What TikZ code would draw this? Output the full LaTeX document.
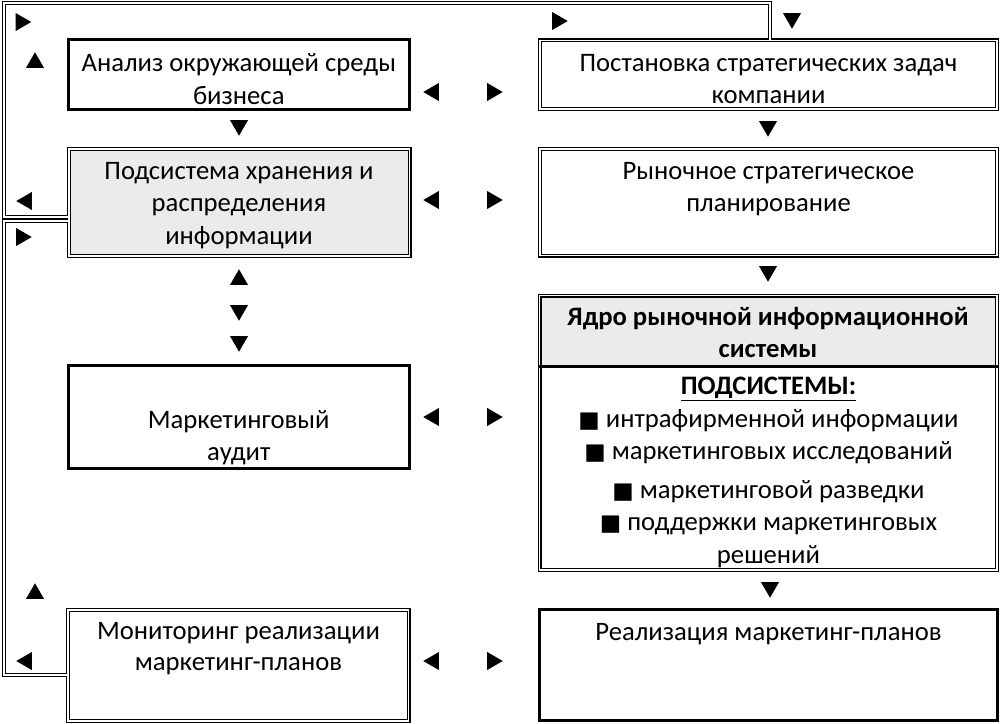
\documentclass[tikz,border=0pt]{standalone}
\usepackage{fontspec}
\setmainfont{Carlito}
\newfontfamily\symfont{DejaVu Sans}
\usetikzlibrary{shapes.geometric}
\definecolor{hdgray}{HTML}{EBEBEB}
\newcommand{\sqbul}{{\symfont\fontsize{17}{17}\selectfont ■}}
\tikzset{
  boxw/.style={minimum width={#1*0.75pt}},
  boxh/.style={minimum height={#1*0.75pt}},
  tbox/.style={draw=black, line width=2.25pt, inner sep=0},
  dbox/.style={draw=black, line width=0.85pt, double=white, double distance=1.3pt, inner sep=0},
  frame/.style={draw=black, line width=0.75pt, double=white, double distance=1.5pt},
  txt/.style={align=center, inner sep=0, font=\fontsize{20}{24.4}\selectfont},
  tri/.style={regular polygon, regular polygon sides=3, fill=black, draw=none, inner sep=0, minimum size=15.5pt},
  triup/.style={tri},
  tridn/.style={tri, shape border rotate=180},
  trirt/.style={tri, shape border rotate=-90},
  trilt/.style={tri, shape border rotate=90}
}
\begin{document}
\begin{tikzpicture}[x=0.75pt,y=-0.75pt]
\useasboundingbox (0,0) rectangle (1000,724);
\fill[white] (0,0) rectangle (1000,724);

% boxes
\node[tbox, boxw=340.5, boxh=69.5] (A) at (238.75,74.75) {};
\node[dbox, boxw=457, boxh=68.5] (B) at (768.5,74.75) {};
\node[dbox, fill=hdgray, boxw=340.5, boxh=107] (C) at (239.25,202.5) {};
\node[dbox, boxw=457, boxh=106.5] (D) at (768.5,202.25) {};
\node[tbox, boxw=340.5, boxh=102.5] (E) at (238.75,416.75) {};
\fill[hdgray] (539.5,295.5) rectangle (997,366.5);
\node[dbox, boxw=457.5, boxh=274.5] (F) at (768.25,432.75) {};
\coordinate (hd) at (0,366.5);
\draw[line width=2.25pt] (F.west |- hd) -- (F.east |- hd);
\node[dbox, boxw=340.5, boxh=111] (G) at (238.25,665.5) {};
\node[tbox, boxw=458, boxh=111] (H) at (768.5,665) {};

% texts
\node[txt] (At) at (238.75,79) {Анализ окружающей среды\\бизнеса};
\node[txt] (Bt) at (768.5,79) {Постановка стратегических задач\\компании};
\node[txt] (Ct) at (239,205.5) {Подсистема хранения и\\распределения\\информации};
\node[txt] (Dt) at (768.5,189) {Рыночное стратегическое\\планирование};
\node[txt] (Et) at (238.75,437.5) {Маркетинговый\\аудит};
\node[txt, font=\fontsize{20}{24.4}\selectfont\bfseries] (Ft) at (768,332.5) {Ядро рыночной информационной\\системы};
\node[txt] (Fb) at (768.5,472.5) {\textbf{\underline{ПОДСИСТЕМЫ:}}\\
\sqbul{} интрафирменной информации\\
\sqbul{} маркетинговых исследований\\[4.5pt]
\sqbul{} маркетинговой разведки\\
\sqbul{} поддержки маркетинговых\\
решений};
\node[txt, font=\fontsize{20}{23}\selectfont] (Gt) at (238.5,648.5) {Мониторинг реализации\\маркетинг-планов};
\node[txt] (Ht) at (768.5,634) {Реализация маркетинг-планов};

% frame connectors
\coordinate (fa) at (3.5,216.5);
\coordinate (fb) at (3.5,3.5);
\coordinate (fc) at (769.5,3.5);
\draw[frame] (C.west |- fa) -- (fa) -- (fb) -- (fc) -- (B.north -| fc);
\coordinate (ga) at (3.5,221);
\coordinate (gb) at (3.5,675);
\draw[frame] (C.west |- ga) -- (ga) -- (gb) -- (G.west |- gb);

% arrow marks
\node[trirt] (r1) at (20.9,22) {};
\node[trirt] (r2) at (557.4,21) {};
\node[tridn] (d1) at (792,18.4) {};
\node[triup] (u1) at (35,62.6) {};
\node[trilt] (l1) at (433.6,92) {};
\node[trirt] (r3) at (492.4,92) {};
\node[tridn] (d2) at (239,125.4) {};
\node[tridn] (d3) at (768,126.4) {};
\node[trilt] (l2) at (26.6,201) {};
\node[trirt] (r4) at (21.4,237) {};
\node[trilt] (l3) at (433.6,200) {};
\node[trirt] (r5) at (492.4,200) {};
\node[triup] (u2) at (239,279.6) {};
\node[tridn] (d4) at (239,310.4) {};
\node[tridn] (d5) at (239,341.4) {};
\node[tridn] (d6) at (768,271.4) {};
\node[trilt] (l4) at (433.6,417) {};
\node[trirt] (r6) at (492.4,417) {};
\node[tridn] (d7) at (770,587.4) {};
\node[triup] (u3) at (35,593.6) {};
\node[trilt] (l5) at (26.6,661) {};
\node[trilt] (l6) at (433.6,661) {};
\node[trirt] (r7) at (492.4,661) {};
\end{tikzpicture}
\end{document}
